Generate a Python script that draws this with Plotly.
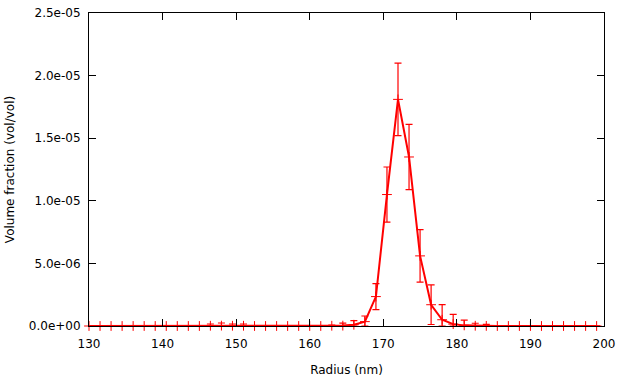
import plotly.graph_objects as go

radius = [130.0, 131.5, 133.0, 134.5, 136.0, 137.5, 139.0, 140.5, 142.0, 143.5,
          145.0, 146.5, 148.0, 149.5, 151.0, 152.5, 154.0, 155.5, 157.0, 158.5,
          160.0, 161.5, 163.0, 164.5, 166.0, 167.5, 169.0, 170.5, 172.0, 173.5,
          175.0, 176.5, 178.0, 179.5, 181.0, 182.5, 184.0, 185.5, 187.0, 188.5,
          190.0, 191.5, 193.0, 194.5, 196.0, 197.5, 199.0]

# volume fraction in units of 1e-6
volume = [0, 0, 0, 0, 0, 0, 0, 0, 0, 0,
          0, 0.02, 0.03, 0.02, 0.02, 0, 0, 0, 0, 0,
          0, 0, 0.02, 0.03, 0.10, 0.35, 2.35, 10.5, 18.1, 13.5,
          5.6, 1.7, 0.5, 0.15, 0.05, 0.02, 0.01, 0, 0, 0,
          0, 0, 0, 0, 0, 0, 0]

err_plus = [0.02, 0.02, 0.02, 0.02, 0.02, 0.02, 0.02, 0.02, 0.02, 0.02,
            0.02, 0.14, 0.21, 0.14, 0.14, 0.02, 0.02, 0.02, 0.02, 0.02,
            0.02, 0.02, 0.06, 0.20, 0.33, 0.45, 1.04, 2.2, 2.9, 2.6,
            2.1, 1.58, 1.2, 0.78, 0.42, 0.20, 0.12, 0.02, 0.02, 0.02,
            0.02, 0.02, 0.02, 0.02, 0.02, 0.02, 0.02]

err_minus = [0, 0, 0, 0, 0, 0, 0, 0, 0, 0,
             0, 0.02, 0.03, 0.02, 0.02, 0, 0, 0, 0, 0,
             0, 0, 0.02, 0.03, 0.10, 0.35, 1.04, 2.2, 2.9, 2.6,
             2.1, 1.58, 0.5, 0.15, 0.05, 0.02, 0.01, 0, 0, 0,
             0, 0, 0, 0, 0, 0, 0]

scale = 1e-6
y = [v * scale for v in volume]
ep = [v * scale for v in err_plus]
em = [v * scale for v in err_minus]

ytick_vals = [0, 5e-6, 1e-5, 1.5e-5, 2e-5, 2.5e-5]
ytick_text = ["0.0e+00", "5.0e-06", "1.0e-05", "1.5e-05", "2.0e-05", "2.5e-05"]
xtick_vals = [130, 140, 150, 160, 170, 180, 190, 200]

red = "#ff0000"

fig = go.Figure()
fig.add_trace(go.Scatter(
    x=radius, y=y, mode="lines+markers",
    line=dict(color=red, width=2),
    marker=dict(symbol="cross-thin", size=7, line=dict(color=red, width=1), color=red),
    error_y=dict(type="data", symmetric=False, array=ep, arrayminus=em,
                 color=red, thickness=1.2, width=3.5),
    cliponaxis=False,
    showlegend=False,
))

font = dict(family="DejaVu Sans", size=12, color="black")
fig.update_layout(
    width=627, height=377,
    margin=dict(l=89, r=23, t=13, b=51, autoexpand=False),
    paper_bgcolor="white", plot_bgcolor="white",
    font=font,
    xaxis=dict(range=[130, 200], tickvals=xtick_vals, ticks="inside", ticklen=7,
               showline=True, linecolor="black", linewidth=1, mirror="ticks",
               showgrid=False, zeroline=False, tickcolor="black",
               ticklabelstandoff=7, automargin=False,
               title=dict(text="Radius (nm)", font=font, standoff=16)),
    yaxis=dict(range=[0, 2.5e-5], tickvals=ytick_vals, ticktext=ytick_text,
               ticks="inside", ticklen=7,
               showline=True, linecolor="black", linewidth=1, mirror="ticks",
               showgrid=False, zeroline=False, tickcolor="black",
               ticklabelstandoff=5, automargin=False,
               title=dict(text="Volume fraction (vol/vol)", font=font, standoff=11)),
)

fig.write_html("out.html", post_script="document.body.style.margin='0';",
               config={"displayModeBar": False})
